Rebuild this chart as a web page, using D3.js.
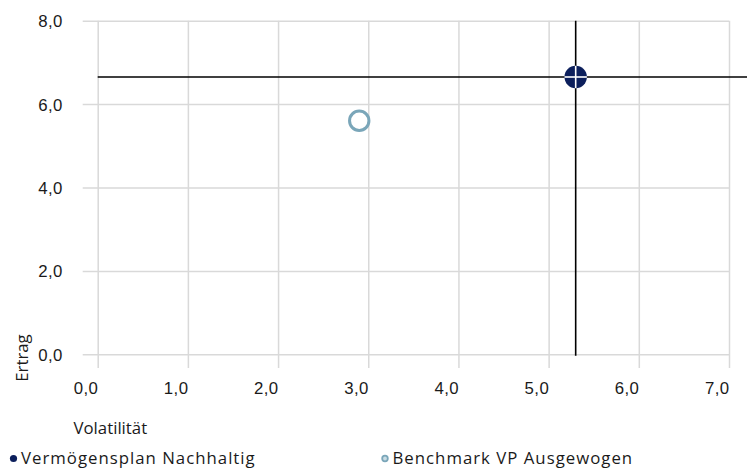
<!DOCTYPE html>
<html>
<head>
<meta charset="utf-8">
<script src="https://cdn.jsdelivr.net/npm/d3@7"></script>
<style>
  html, body { margin: 0; padding: 0; background: #fff; }
  svg { display: block; font-family: "Open Sans", "Noto Sans", sans-serif; }
</style>
</head>
<body>
<svg id="chart" width="747" height="470"></svg>
<script>
// Risk/return data
const seriesNames = ["Vermögensplan Nachhaltig", "Benchmark VP Ausgewogen"];
const volatility = [5.3, 2.9];
const returns = [6.65, 5.6];
const xTicks = [0, 1, 2, 3, 4, 5, 6, 7];
const yTicks = [0, 2, 4, 6, 8];
const xTitle = "Volatilität";
const yTitle = "Ertrag";

(function () {
  const de = d3.formatLocale({ decimal: ",", thousands: ".", grouping: [3], currency: ["", " €"] });
  const fmt = de.format(".1f");

  const svg = d3.select("#chart");
  const plotL = 97.7, plotR = 729, plotT = 20.7, plotB = 354.3;
  const x = d3.scaleLinear().domain([0, 7]).range([plotL, plotR]);
  const y = d3.scaleLinear().domain([0, 8]).range([plotB, plotT]);

  const gridColor = "#d9d9d9";
  const textColor = "#1a1a1a";
  const navy = "#0c1f5c";
  const teal = "#7aa6b9";
  const fontSize = "16.8px";

  // vertical gridlines (with tick stubs below the plot) and x labels
  const gx = svg.append("g")
    .attr("transform", `translate(0,${plotT})`)
    .call(d3.axisBottom(x).tickValues(xTicks).tickFormat(fmt)
      .tickSizeInner(368 - plotT).tickSizeOuter(0));
  gx.select(".domain").remove();
  gx.selectAll(".tick line").attr("stroke", gridColor).attr("stroke-width", 1.5);
  gx.selectAll(".tick text")
    .attr("y", 394.5 - plotT).attr("dy", null).attr("x", 0)
    .attr("text-anchor", "end")
    .attr("fill", textColor).style("font-size", fontSize).style("letter-spacing", "0.4px");

  // horizontal gridlines (with tick stubs left of the plot) and y labels
  const gy = svg.append("g")
    .attr("transform", `translate(${plotR},0)`)
    .call(d3.axisLeft(y).tickValues(yTicks).tickFormat(fmt)
      .tickSizeInner(plotR - 82.7).tickSizeOuter(0));
  gy.select(".domain").remove();
  gy.selectAll(".tick line").attr("stroke", gridColor).attr("stroke-width", 1.5);
  gy.selectAll(".tick text")
    .attr("x", 62.7 - plotR).attr("dy", "0.36em")
    .attr("text-anchor", "end")
    .attr("fill", textColor).style("font-size", fontSize).style("letter-spacing", "0.4px");

  // crosshair through the portfolio point
  const px = x(volatility[0]), py = y(returns[0]);
  svg.append("line")
    .attr("x1", x(0)).attr("x2", 747).attr("y1", py).attr("y2", py)
    .attr("stroke", "#000").attr("stroke-width", 1.6);
  svg.append("line")
    .attr("x1", px).attr("x2", px).attr("y1", y(8)).attr("y2", y(0) + 1.5)
    .attr("stroke", "#000").attr("stroke-width", 1.6);

  // portfolio marker: filled dot with a white cross
  const r = 11.2;
  svg.append("circle").attr("cx", px).attr("cy", py).attr("r", r).attr("fill", navy);
  svg.append("line").attr("x1", px - r).attr("x2", px + r).attr("y1", py).attr("y2", py)
    .attr("stroke", "#fff").attr("stroke-width", 1.6);
  svg.append("line").attr("x1", px).attr("x2", px).attr("y1", py - r).attr("y2", py + r)
    .attr("stroke", "#fff").attr("stroke-width", 1.6);

  // benchmark marker: open ring
  svg.append("circle")
    .attr("cx", x(volatility[1])).attr("cy", y(returns[1])).attr("r", 9.7)
    .attr("fill", "none").attr("stroke", teal).attr("stroke-width", 3);

  // axis titles
  svg.append("text").attr("x", 73.5).attr("y", 434.3)
    .attr("fill", textColor).style("font-size", fontSize).text(xTitle);
  svg.append("text")
    .attr("transform", `translate(28.3,358) rotate(-90)`)
    .attr("text-anchor", "middle")
    .attr("fill", textColor).style("font-size", fontSize).text(yTitle);

  // legend
  const legendX = [13.5, 385];
  const lg = svg.append("g");
  lg.append("circle").attr("cx", legendX[0]).attr("cy", 458.5).attr("r", 3.6).attr("fill", navy);
  lg.append("circle").attr("cx", legendX[1]).attr("cy", 458.5).attr("r", 2.8)
    .attr("fill", "#c9dce4").attr("stroke", teal).attr("stroke-width", 1.8);
  seriesNames.forEach((name, i) => {
    lg.append("text").attr("x", legendX[i] + 7.5).attr("y", 464.3)
      .attr("fill", textColor).style("font-size", fontSize).style("letter-spacing", "1px").text(name);
  });
})();
</script>
</body>
</html>
